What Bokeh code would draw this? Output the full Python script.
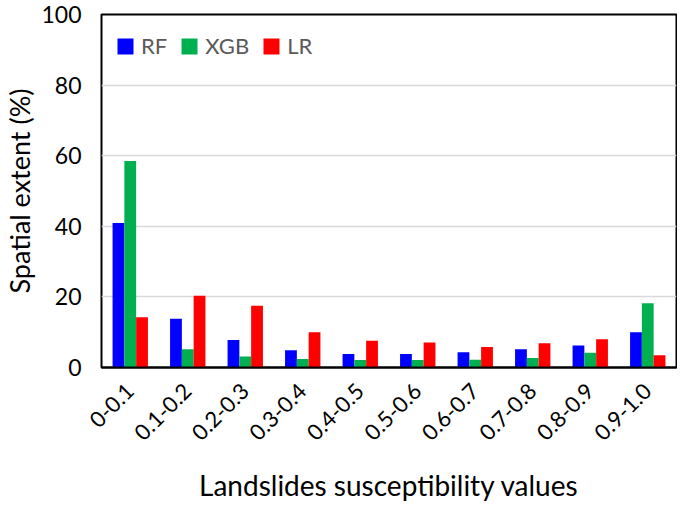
import math
from bokeh.plotting import figure
from bokeh.models import ColumnDataSource, Legend, LegendItem
from bokeh.transform import dodge
from bokeh.embed import file_html
from bokeh.resources import INLINE

categories = ["0-0.1", "0.1-0.2", "0.2-0.3", "0.3-0.4", "0.4-0.5",
              "0.5-0.6", "0.6-0.7", "0.7-0.8", "0.8-0.9", "0.9-1.0"]
rf = [40.9, 13.8, 7.8, 4.9, 3.8, 3.8, 4.3, 5.2, 6.2, 10.0]
xgb = [58.5, 5.2, 3.1, 2.4, 2.1, 2.1, 2.2, 2.7, 4.2, 18.2]
lr = [14.2, 20.3, 17.5, 10.0, 7.6, 7.1, 5.8, 6.9, 8.0, 3.5]
y_ticks = [0, 20, 40, 60, 80, 100]

src = ColumnDataSource(dict(cat=categories, RF=rf, XGB=xgb, LR=lr))

FONT = "Lato"

p = figure(x_range=categories, y_range=(0, 100), width=677, height=505,
           output_backend="svg", toolbar_location=None,
           min_border_left=92, min_border_right=1, min_border_top=14,
           min_border_bottom=138)

off = 0.205
bw = 0.205
r1 = p.vbar(x=dodge("cat", -off, range=p.x_range), top="RF", width=bw, source=src,
            fill_color="#0000FF", line_color=None)
r2 = p.vbar(x=dodge("cat", 0.0, range=p.x_range), top="XGB", width=bw, source=src,
            fill_color="#00B050", line_color=None)
r3 = p.vbar(x=dodge("cat", off, range=p.x_range), top="LR", width=bw, source=src,
            fill_color="#FF0000", line_color=None)

legend = Legend(items=[LegendItem(label="RF", renderers=[r1]),
                       LegendItem(label="XGB", renderers=[r2]),
                       LegendItem(label="LR", renderers=[r3])],
                orientation="horizontal", location=(14, 308),
                border_line_color=None, background_fill_alpha=0,
                glyph_width=20, glyph_height=20, label_standoff=6, spacing=12,
                label_text_font=FONT, label_text_font_size="22px",
                label_text_color="#595959", padding=0, margin=0)
p.add_layout(legend, "center")

p.outline_line_color = "#000000"
p.outline_line_width = 2

p.xgrid.grid_line_color = None
p.ygrid.grid_line_color = "#d9d9d9"
p.ygrid.grid_line_width = 1.5
p.yaxis.ticker = y_ticks

for ax in (p.xaxis[0], p.yaxis[0]):
    ax.major_tick_line_color = None
    ax.minor_tick_line_color = None
    ax.major_tick_out = 0
    ax.major_tick_in = 0
    ax.minor_tick_out = 0
    ax.major_label_text_font = FONT
    ax.major_label_text_color = "#000000"
    ax.axis_label_text_font = FONT
    ax.axis_label_text_font_style = "normal"
    ax.axis_label_text_color = "#000000"

p.xaxis.major_label_text_font_size = "22px"
p.yaxis.major_label_text_font_size = "23px"
p.xaxis.axis_label_text_font_size = "28px"
p.yaxis.axis_label_text_font_size = "27px"

p.yaxis.axis_line_color = None
p.xaxis.axis_line_color = "#000000"
p.xaxis.axis_line_width = 2

p.xaxis.axis_label = "Landslides susceptibility values"
p.yaxis.axis_label = "Spatial extent (%)"
p.xaxis.major_label_orientation = math.pi / 4
p.xaxis.major_label_standoff = 20
p.yaxis.major_label_standoff = 20
p.xaxis.axis_label_standoff = 18
p.yaxis.axis_label_standoff = 2

open("out.html", "w").write(file_html(p, INLINE))
